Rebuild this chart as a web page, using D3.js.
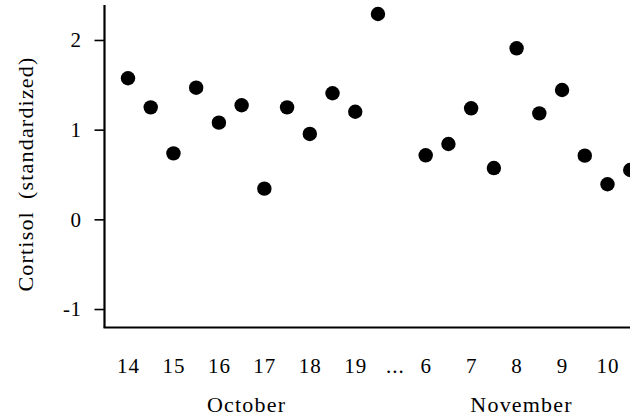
<!DOCTYPE html>
<html>
<head>
<meta charset="utf-8">
<script src="https://cdn.jsdelivr.net/npm/d3@7"></script>
<style>
  html, body { margin: 0; padding: 0; background: #fff; }
  svg { display: block; }
  text { font-family: "Liberation Serif", "Times New Roman", serif; fill: #000; }
</style>
</head>
<body>
<script>
// ---- data ----
const octDays = [14, 14.5, 15, 15.5, 16, 16.5, 17, 17.5, 18, 18.5, 19, 19.5];
const octValues = [1.573, 1.249, 0.736, 1.468, 1.078, 1.272, 0.342, 1.249, 0.952, 1.406, 1.200, 2.290];
const novDays = [6, 6.5, 7, 7.5, 8, 8.5, 9, 9.5, 10, 10.5];
const novValues = [0.714, 0.840, 1.238, 0.572, 1.907, 1.182, 1.442, 0.710, 0.391, 0.550];
const octTicks = [14, 15, 16, 17, 18, 19];
const novTicks = [6, 7, 8, 9, 10];
const yTicks = [-1, 0, 1, 2];
const monthNames = ["October", "November"];
const yLabel = ["Cortisol", "(standardized)"];

// ---- layout ----
const W = 630, H = 416;
const octStart = 14, novStart = 6, novOffset = 6.55, gapPos = 5.87;
const pos = (m, d) => m === 0 ? d - octStart : d - novStart + novOffset;

const svg = d3.select("body").append("svg").attr("width", W).attr("height", H);

const x = d3.scaleLinear().domain([-0.517, 11.045]).range([104.5, 630]);
const y = d3.scaleLinear().domain([-1.206, 2.39]).range([327.5, 5]);

const points = [
  ...octDays.map((d, i) => ({ t: pos(0, d), v: octValues[i] })),
  ...novDays.map((d, i) => ({ t: pos(1, d), v: novValues[i] }))
];

// tick definitions for x axis
const xTickPos = [...octTicks.map(d => pos(0, d)), gapPos, ...novTicks.map(d => pos(1, d))];
const xTickLab = [...octTicks.map(String), "...", ...novTicks.map(String)];

const fs = 21;

// y axis
const gy = svg.append("g").attr("transform", `translate(${x.range()[0]},0)`)
  .call(d3.axisLeft(y).tickValues(yTicks).tickSize(10).tickPadding(13).tickFormat(d3.format("d")));
gy.select(".domain").attr("stroke", "#000").attr("stroke-width", 2.2).attr("d", `M0,${y.range()[1]}V${y.range()[0]}`);
gy.selectAll(".tick line").attr("stroke", "#000").attr("stroke-width", 1.6);
gy.selectAll(".tick text").attr("font-size", fs).attr("font-family", "Liberation Serif").attr("letter-spacing", 0.5)
  .text(d => d < 0 ? "-" + Math.abs(d) : d);

// x axis
const gx = svg.append("g").attr("transform", `translate(0,${y.range()[0]})`)
  .call(d3.axisBottom(x).tickValues(xTickPos).tickSize(0).tickPadding(30.5)
    .tickFormat((d, i) => xTickLab[i]));
gx.select(".domain").attr("stroke", "#000").attr("stroke-width", 2.2).attr("d", `M${x.range()[0] - 1},0H${x.range()[1]}`);
gx.selectAll(".tick text").attr("font-size", fs).attr("font-family", "Liberation Serif").attr("letter-spacing", 1);

// month labels
const monthCenters = [
  (pos(0, octTicks[0]) + pos(0, octTicks[octTicks.length - 1])) / 2,
  (pos(1, novTicks[0]) + pos(1, novTicks[novTicks.length - 1])) / 2
];
svg.selectAll("text.month").data(monthNames).join("text")
  .attr("class", "month")
  .attr("x", (d, i) => x(monthCenters[i]) + 5)
  .attr("y", 411.5)
  .attr("text-anchor", "middle")
  .attr("font-size", fs + 1)
  .attr("letter-spacing", 1.2)
  .text(d => d);

// y label
const yl = svg.append("text")
  .attr("transform", "rotate(-90)")
  .attr("x", -174).attr("y", 33)
  .attr("text-anchor", "middle")
  .attr("font-size", fs + 1)
  .attr("letter-spacing", 1.2);
yl.append("tspan").text(yLabel[0]);
yl.append("tspan").attr("dx", 12).text(yLabel[1]);

// points
svg.append("g").selectAll("circle").data(points).join("circle")
  .attr("cx", d => x(d.t))
  .attr("cy", d => y(d.v))
  .attr("r", 7.2)
  .attr("fill", "#000");
</script>
</body>
</html>
